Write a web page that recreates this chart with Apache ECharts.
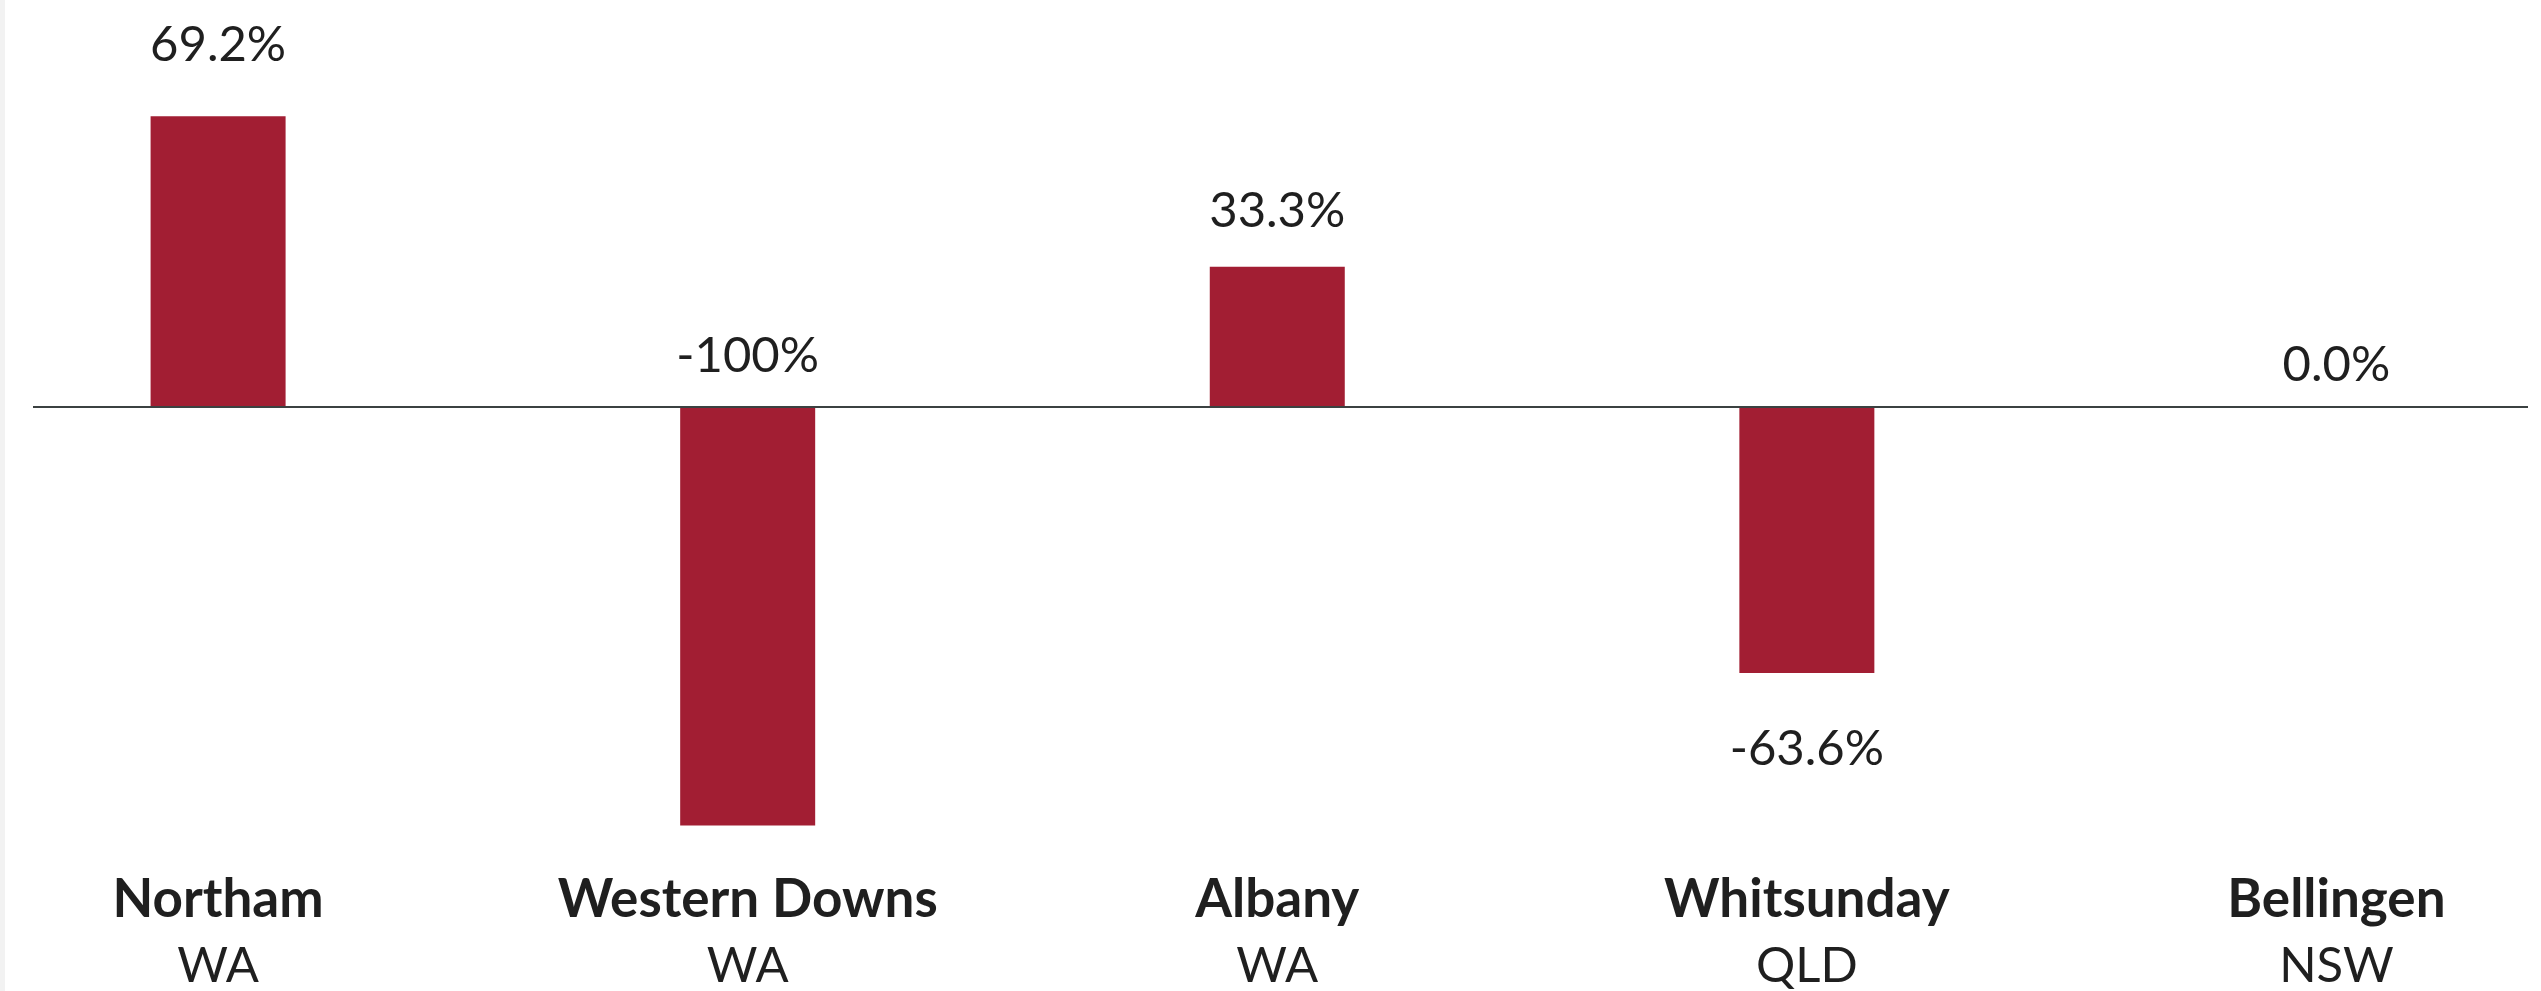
<!DOCTYPE html>
<html>
<head>
<meta charset="utf-8">
<style>
  html, body { margin: 0; padding: 0; background: #fff; }
  #strip { position: absolute; left: 0; top: 0; width: 5px; height: 991px; background: #f2f2f2; z-index: 2; }
  #chart { width: 2541px; height: 991px; }
</style>
<script src="https://cdn.jsdelivr.net/npm/echarts@6/dist/echarts.min.js"></script>
</head>
<body>
<div id="strip"></div>
<div id="chart"></div>
<script>
const regions = ['Northam', 'Western Downs', 'Albany', 'Whitsunday', 'Bellingen']
const states = ['WA', 'WA', 'WA', 'QLD', 'NSW']
const changes = [69.2, -100, 33.3, -63.6, 0.0]
const changeLabels = ['69.2%', '-100%', '33.3%', '-63.6%', '0.0%']

// where each value label sits relative to its bar
const labelPlace = [
  { position: 'top', distance: 47 },
  { position: 'top', distance: 26 },
  { position: 'top', distance: 31 },
  { position: 'bottom', distance: 52 },
  { position: 'top', distance: 17 }
]

const chart = echarts.init(document.getElementById('chart'))
chart.setOption({
  animation: false,
  grid: {
    left: 33,
    right: 13,
    top: 71,
    bottom: 164
  },
  xAxis: {
    type: 'value',
    min: -0.3495,
    max: 4.3617,
    axisLine: { show: false },
    axisTick: { show: false },
    splitLine: { show: false },
    axisLabel: {
      customValues: [0, 1, 2, 3, 4],
      margin: 40,
      formatter: function (value) {
        const i = Math.round(value)
        return '{b|' + regions[i] + '}\n{s|' + states[i] + '}'
      },
      rich: {
        b: {
          fontFamily: 'Lato',
          fontWeight: 'bold',
          fontSize: 53,
          lineHeight: 68,
          color: '#1f1f1f'
        },
        s: {
          fontFamily: 'Lato',
          fontSize: 49,
          lineHeight: 66,
          color: '#1f1f1f'
        }
      }
    }
  },
  yAxis: {
    type: 'value',
    min: -100,
    max: 80,
    show: false
  },
  series: [
    {
      type: 'bar',
      barWidth: 135,
      itemStyle: { color: '#a21e33' },
      label: {
        show: true,
        fontFamily: 'Lato',
        fontSize: 49,
        color: '#1f1f1f',
        formatter: function (p) {
          return changeLabels[p.dataIndex]
        }
      },
      data: changes.map(function (v, i) {
        return { value: [i, v], label: labelPlace[i] }
      }),
      markLine: {
        silent: true,
        symbol: ['none', 'none'],
        label: { show: false },
        lineStyle: { color: '#3b4141', width: 2, type: 'solid' },
        data: [{ yAxis: 0 }]
      }
    }
  ]
})
</script>
</body>
</html>
